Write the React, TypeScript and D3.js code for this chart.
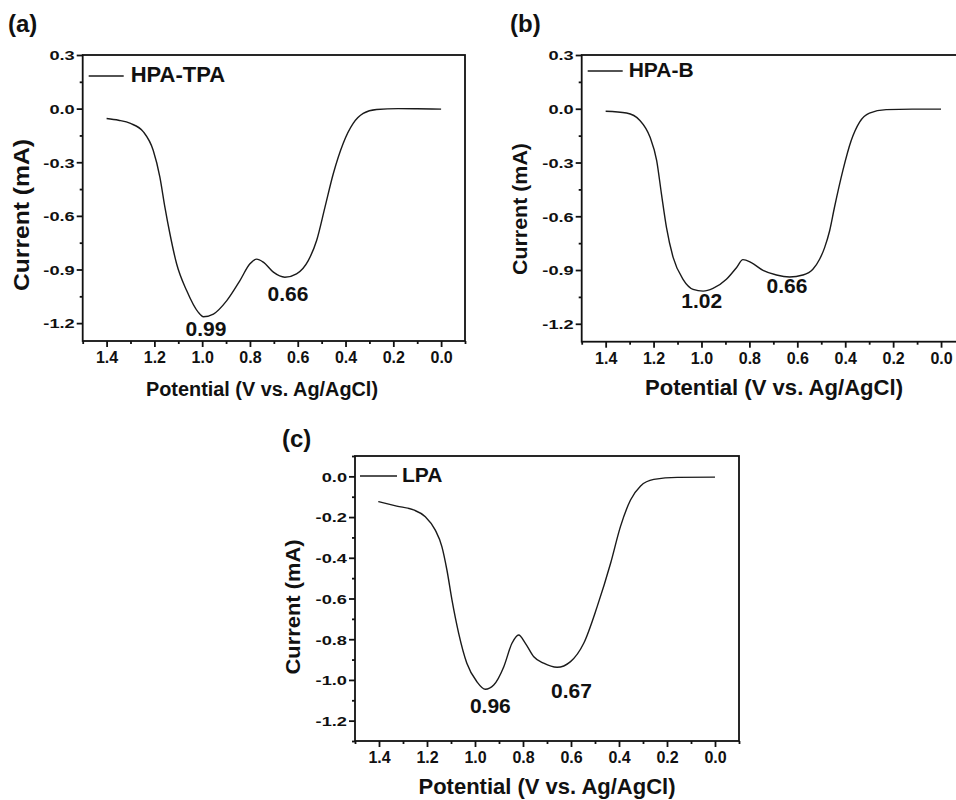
import React, { useEffect, useRef } from 'react';
import * as d3 from 'd3';

// ---------- DATA ----------
const potentialA = [1.4, 1.35, 1.30, 1.246, 1.205, 1.177, 1.156, 1.135, 1.107, 1.065, 1.016, 0.995, 0.953, 0.897, 0.842, 0.80, 0.772, 0.744, 0.702, 0.654, 0.605, 0.556, 0.521, 0.486, 0.451, 0.41, 0.368, 0.326, 0.27, 0.18, 0.1, 0.0];
const currentA = [-0.055, -0.065, -0.083, -0.13, -0.233, -0.383, -0.551, -0.70, -0.868, -1.018, -1.14, -1.164, -1.149, -1.074, -0.962, -0.868, -0.842, -0.859, -0.915, -0.943, -0.924, -0.85, -0.738, -0.551, -0.363, -0.195, -0.083, -0.027, -0.005, 0.0, -0.001, -0.003];

const potentialB = [1.4, 1.313, 1.257, 1.215, 1.187, 1.167, 1.146, 1.118, 1.077, 1.035, 0.993, 0.952, 0.896, 0.854, 0.827, 0.792, 0.743, 0.687, 0.632, 0.577, 0.535, 0.507, 0.486, 0.465, 0.445, 0.41, 0.375, 0.34, 0.299, 0.229, 0.12, 0.0];
const currentB = [-0.014, -0.024, -0.065, -0.158, -0.289, -0.476, -0.663, -0.831, -0.952, -1.008, -1.018, -1.003, -0.952, -0.887, -0.842, -0.859, -0.902, -0.928, -0.939, -0.928, -0.896, -0.84, -0.775, -0.681, -0.551, -0.345, -0.177, -0.074, -0.024, -0.005, -0.002, -0.002];

const potentialC = [1.403, 1.326, 1.256, 1.207, 1.166, 1.138, 1.117, 1.096, 1.068, 1.034, 0.992, 0.957, 0.922, 0.88, 0.846, 0.818, 0.79, 0.755, 0.714, 0.658, 0.602, 0.547, 0.491, 0.435, 0.394, 0.352, 0.31, 0.255, 0.157, 0.0];
const currentC = [-0.124, -0.146, -0.165, -0.198, -0.263, -0.345, -0.46, -0.607, -0.771, -0.918, -1.009, -1.046, -1.025, -0.935, -0.82, -0.779, -0.82, -0.886, -0.918, -0.938, -0.91, -0.82, -0.64, -0.427, -0.247, -0.116, -0.047, -0.015, -0.005, -0.004];

const xMajorTicks = [1.4, 1.2, 1.0, 0.8, 0.6, 0.4, 0.2, 0.0];
const xMinorTicks = [1.5, 1.3, 1.1, 0.9, 0.7, 0.5, 0.3, 0.1, -0.1];
const yMajorTicksAB = [0.3, 0.0, -0.3, -0.6, -0.9, -1.2];
const yMinorTicksAB = [0.15, -0.15, -0.45, -0.75, -1.05];
const yMajorTicksC = [0.0, -0.2, -0.4, -0.6, -0.8, -1.0, -1.2];
const yMinorTicksC = [0.1, -0.1, -0.3, -0.5, -0.7, -0.9, -1.1, -1.3];

const seriesNames = ['HPA-TPA', 'HPA-B', 'LPA'];
const panelLetters = ['(a)', '(b)', '(c)'];
const peakTextA = ['0.99', '0.66'];
const peakTextB = ['1.02', '0.66'];
const peakTextC = ['0.96', '0.67'];
// anchor positions of peak annotations in data units [potential, current]
const peakPosA = [[0.984, -1.27], [0.641, -1.074]];
const peakPosB = [[0.999, -1.113], [0.643, -1.029]];
const peakPosC = [[0.936, -1.162], [0.598, -1.089]];

const xTitle = 'Potential (V vs. Ag/AgCl)';
const yTitle = 'Current (mA)';

// ---------- LAYOUT ----------
const FONT = "'Liberation Sans', Arial, Helvetica, sans-serif";

const panels = [
  {
    pot: potentialA, cur: currentA, name: seriesNames[0], letter: panelLetters[0],
    peaks: peakTextA, peakPos: peakPosA,
    left: 82.7, right: 465, top: 55, bottom: 341,
    yDomain: [-1.3, 0.3], yMajor: yMajorTicksAB, yMinor: yMinorTicksAB,
    legend: { x1: 6, x2: 41, ly: 21, tx: 48, ty: 27, fs: 22 },
    letterPos: { x: 8, y: 32 },
    xt: { cx: 262, y: 396, len: 232, fs: 20 },
    yt: { x: 29, cy: 215, len: 152, fs: 22 },
  },
  {
    pot: potentialB, cur: currentB, name: seriesNames[1], letter: panelLetters[1],
    peaks: peakTextB, peakPos: peakPosB,
    left: 581.7, right: 965, top: 55, bottom: 341.7,
    yDomain: [-1.3, 0.3], yMajor: yMajorTicksAB, yMinor: yMinorTicksAB,
    legend: { x1: 6, x2: 41, ly: 16, tx: 47, ty: 22, fs: 21 },
    letterPos: { x: 510, y: 32 },
    xt: { cx: 774, y: 395, len: 258, fs: 22 },
    yt: { x: 527, cy: 209, len: 132, fs: 20 },
  },
  {
    pot: potentialC, cur: currentC, name: seriesNames[2], letter: panelLetters[2],
    peaks: peakTextC, peakPos: peakPosC,
    left: 355, right: 739, top: 456, bottom: 741,
    yDomain: [-1.3, 0.1], yMajor: yMajorTicksC, yMinor: yMinorTicksC,
    legend: { x1: 5, x2: 42, ly: 20, tx: 47, ty: 26, fs: 21 },
    letterPos: { x: 282, y: 447 },
    xt: { cx: 547, y: 794, len: 257, fs: 22 },
    yt: { x: 300, cy: 607, len: 135, fs: 20 },
  },
];

const fmt = (d: number) => (Math.abs(d) < 1e-9 ? 0 : d).toFixed(1);

export default function App() {
  const ref = useRef<SVGSVGElement | null>(null);

  useEffect(() => {
    const svg = d3.select(ref.current);
    svg.selectAll('*').remove();
    svg.append('rect').attr('width', 956).attr('height', 800).attr('fill', '#fff');

    panels.forEach((p) => {
      const x = d3.scaleLinear().domain([1.5, -0.1]).range([p.left, p.right]);
      const y = d3.scaleLinear().domain(p.yDomain).range([p.bottom, p.top]);
      const g = svg.append('g').attr('font-family', FONT);

      // frame
      g.append('rect')
        .attr('x', p.left).attr('y', p.top)
        .attr('width', p.right - p.left).attr('height', p.bottom - p.top)
        .attr('fill', 'none').attr('stroke', '#111').attr('stroke-width', 1.8);

      // x axis major
      const xa = g.append('g').attr('transform', `translate(0,${p.bottom})`)
        .call(d3.axisBottom(x).tickValues(xMajorTicks).tickSize(6).tickFormat((d: any) => fmt(d)));
      xa.select('.domain').remove();
      xa.selectAll('line').attr('stroke', '#111').attr('stroke-width', 1.8);
      xa.selectAll('text')
        .attr('y', 22).attr('dy', null)
        .attr('font-size', 16).attr('font-weight', 'bold')
        .attr('font-family', FONT).attr('fill', '#111');
      // x axis minor
      const xm = g.append('g').attr('transform', `translate(0,${p.bottom})`)
        .call(d3.axisBottom(x).tickValues(xMinorTicks).tickSize(3).tickFormat(() => ''));
      xm.select('.domain').remove();
      xm.selectAll('line').attr('stroke', '#111').attr('stroke-width', 1.8);

      // y axis major
      const ya = g.append('g').attr('transform', `translate(${p.left},0)`)
        .call(d3.axisLeft(y).tickValues(p.yMajor).tickSize(6).tickFormat((d: any) => fmt(d)));
      ya.select('.domain').remove();
      ya.selectAll('line').attr('stroke', '#111').attr('stroke-width', 1.8);
      ya.selectAll('text')
        .attr('x', 0).attr('dy', '0.36em')
        .attr('transform', 'translate(-8,0) scale(1.35,1)')
        .attr('font-size', 13.5).attr('font-weight', 'bold')
        .attr('font-family', FONT).attr('fill', '#111');
      const ym = g.append('g').attr('transform', `translate(${p.left},0)`)
        .call(d3.axisLeft(y).tickValues(p.yMinor).tickSize(3).tickFormat(() => ''));
      ym.select('.domain').remove();
      ym.selectAll('line').attr('stroke', '#111').attr('stroke-width', 1.8);

      // curve
      const pts = p.pot.map((v, i) => [v, p.cur[i]] as [number, number]);
      const line = d3.line<[number, number]>()
        .x((d) => x(d[0])).y((d) => y(d[1]))
        .curve(d3.curveMonotoneX);
      g.append('path').attr('d', line(pts) as string)
        .attr('fill', 'none').attr('stroke', '#1a1a1a').attr('stroke-width', 1.4);

      // legend
      g.append('line')
        .attr('x1', p.left + p.legend.x1).attr('x2', p.left + p.legend.x2)
        .attr('y1', p.top + p.legend.ly).attr('y2', p.top + p.legend.ly)
        .attr('stroke', '#1a1a1a').attr('stroke-width', 1.4);
      g.append('text')
        .attr('x', p.left + p.legend.tx).attr('y', p.top + p.legend.ty)
        .attr('font-size', p.legend.fs).attr('font-weight', 'bold').attr('fill', '#111')
        .text(p.name);

      // peak labels
      p.peaks.forEach((t, i) => {
        g.append('text')
          .attr('x', x(p.peakPos[i][0])).attr('y', y(p.peakPos[i][1]))
          .attr('text-anchor', 'middle')
          .attr('font-size', 21).attr('font-weight', 'bold').attr('fill', '#111')
          .text(t);
      });

      // panel letter
      g.append('text')
        .attr('x', p.letterPos.x).attr('y', p.letterPos.y)
        .attr('font-size', 24).attr('font-weight', 'bold').attr('fill', '#111')
        .text(p.letter);

      // x title
      g.append('text')
        .attr('x', p.xt.cx).attr('y', p.xt.y)
        .attr('text-anchor', 'middle')
        .attr('font-size', p.xt.fs).attr('font-weight', 'bold').attr('fill', '#111')
        .attr('textLength', p.xt.len).attr('lengthAdjust', 'spacingAndGlyphs')
        .text(xTitle);

      // y title
      g.append('text')
        .attr('transform', `translate(${p.yt.x},${p.yt.cy}) rotate(-90)`)
        .attr('text-anchor', 'middle')
        .attr('font-size', p.yt.fs).attr('font-weight', 'bold').attr('fill', '#111')
        .attr('textLength', p.yt.len).attr('lengthAdjust', 'spacingAndGlyphs')
        .text(yTitle);
    });
  }, []);

  return (
    <svg
      ref={ref}
      width={956}
      height={800}
      style={{ position: 'absolute', left: 0, top: 0, display: 'block' }}
    />
  );
}
